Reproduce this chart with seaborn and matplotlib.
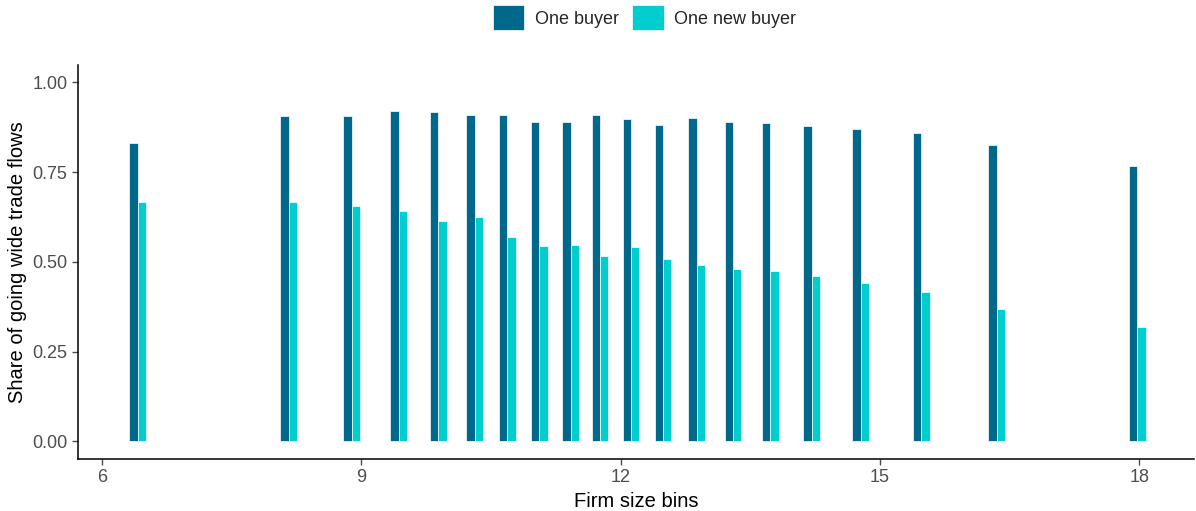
import pandas as pd
import matplotlib
matplotlib.use("Agg")
import matplotlib.pyplot as plt
import seaborn as sns
from matplotlib.ticker import FormatStrFormatter

# valores
firm_size = [6.41, 8.16, 8.89, 9.43, 9.89, 10.31, 10.69, 11.06, 11.42, 11.76,
             12.12, 12.49, 12.88, 13.30, 13.73, 14.21, 14.78, 15.48, 16.35, 17.98]
one_buyer = [0.832, 0.907, 0.907, 0.921, 0.918, 0.910, 0.910, 0.890, 0.890, 0.910,
             0.899, 0.882, 0.902, 0.890, 0.888, 0.879, 0.871, 0.860, 0.826, 0.768]
one_new_buyer = [0.668, 0.668, 0.656, 0.643, 0.615, 0.626, 0.570, 0.545, 0.548, 0.517,
                 0.542, 0.509, 0.492, 0.481, 0.475, 0.461, 0.442, 0.417, 0.370, 0.319]
series = ["One buyer", "One new buyer"]
cores = ["#00688B", "#00CDCD"]

df = pd.DataFrame({
    "size": firm_size * 2,
    "share": one_buyer + one_new_buyer,
    "serie": [series[0]] * len(firm_size) + [series[1]] * len(firm_size),
})

sns.set_theme(style="ticks")
plt.rcParams["font.family"] = ["Liberation Sans", "DejaVu Sans"]

fig, ax = plt.subplots(figsize=(11.96, 5.11), dpi=100)
fig.subplots_adjust(left=0.0652, right=0.998, top=0.873, bottom=0.102)

# largura do par de barras ~0.19 em unidades de x
min_gap = min(b - a for a, b in zip(sorted(firm_size)[:-1], sorted(firm_size)[1:]))
sns.barplot(data=df, x="size", y="share", hue="serie", native_scale=True,
            palette=cores, hue_order=series, errorbar=None, saturation=1,
            width=0.195 / min_gap, edgecolor="white", linewidth=0.5, ax=ax)

ax.set_xlim(5.72, 18.63)
ax.set_ylim(-0.049, 1.049)
ax.set_xticks([6, 9, 12, 15, 18])
ax.set_yticks([0, 0.25, 0.5, 0.75, 1.0])
ax.yaxis.set_major_formatter(FormatStrFormatter("%.2f"))
ax.tick_params(labelsize=13, colors="#4D4D4D", length=4, width=1)
for s in ["left", "bottom"]:
    ax.spines[s].set_color("black")
    ax.spines[s].set_linewidth(1.1)
sns.despine(ax=ax)
ax.set_xlabel("Firm size bins", fontsize=14.5, color="black")
ax.set_ylabel("Share of going wide trade flows", fontsize=14.5, color="black")

sns.move_legend(ax, "center", bbox_to_anchor=(0.539, 0.965),
                bbox_transform=fig.transFigure, ncol=2, frameon=False,
                title=None, fontsize=13, handlelength=1.75, handleheight=1.75,
                handletextpad=0.6, columnspacing=0.7)

plt.savefig("out.png", dpi=100)
